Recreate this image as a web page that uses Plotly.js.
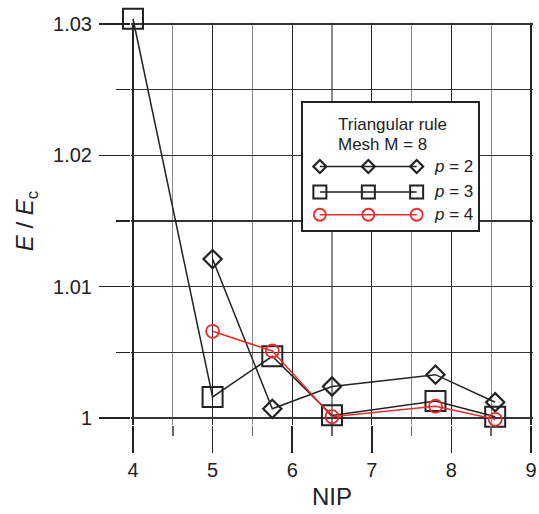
<!DOCTYPE html>
<html>
<head>
<meta charset="utf-8">
<script src="https://cdn.plot.ly/plotly-3.0.1.min.js"></script>
<style>html,body{margin:0;padding:0;background:#fff;}#chart{width:539px;height:514px;}</style>
</head>
<body>
<div id="chart"></div>
<script>
// NIP values
const nipP2 = [5, 5.75, 6.5, 7.8, 8.55];
const nipP3 = [4, 5, 5.75, 6.5, 7.8, 8.55];
const nipP4 = [5, 5.75, 6.5, 7.8, 8.55];
// E / Ec values
const ratioP2 = [1.0121, 1.0007, 1.0024, 1.0033, 1.0012];
const ratioP3 = [1.0304, 1.0016, 1.0047, 1.0002, 1.0013, 1.0001];
const ratioP4 = [1.0066, 1.0051, 1.0001, 1.0009, 0.9999];
const seriesNames = ['<i>p</i> = 2', '<i>p</i> = 3', '<i>p</i> = 4'];
const legendTitleLines = ['Triangular rule', 'Mesh M = 8'];
const xTicks = [4, 5, 6, 7, 8, 9];
const yTicks = [1, 1.01, 1.02, 1.03];
const yTickText = ['1', '1.01', '1.02', '1.03'];

const black = '#222';
const red = '#ee2a2a';
const FONT = 'Liberation Sans, Arial, sans-serif';

const styles = [
  {color: black, symbol: 'diamond-open', size: 14, lsize: 10, mlw: 2.2},
  {color: black, symbol: 'square-open', size: 20, lsize: 13, mlw: 2},
  {color: red, symbol: 'circle-open', size: 13, lsize: 12, mlw: 1.8}
];
const xs = [nipP2, nipP3, nipP4];
const ys = [ratioP2, ratioP3, ratioP4];

const traces = [];
for (let i = 0; i < 3; i++) {
  traces.push({
    x: xs[i], y: ys[i], type: 'scatter', mode: 'lines+markers',
    name: seriesNames[i], showlegend: false, cliponaxis: false,
    line: {color: styles[i].color, width: 1.5},
    marker: {symbol: styles[i].symbol, size: styles[i].size, color: styles[i].color,
             line: {color: styles[i].color, width: styles[i].mlw}}
  });
}

// legend drawn as an inset subplot (x2/y2, range 0..1)
const rowY = [0.5, 0.3, 0.12];
const sampleX = [0.098, 0.374, 0.649];
for (let i = 0; i < 3; i++) {
  traces.push({
    x: sampleX, y: [rowY[i], rowY[i], rowY[i]], xaxis: 'x2', yaxis: 'y2',
    type: 'scatter', mode: 'lines+markers', showlegend: false, hoverinfo: 'skip', cliponaxis: false,
    line: {color: styles[i].color, width: 1.5},
    marker: {symbol: styles[i].symbol, size: styles[i].lsize, color: styles[i].color,
             line: {color: styles[i].color, width: styles[i].mlw}}
  });
}

const annotations = [
  {xref: 'x2', yref: 'y2', x: 0.19, y: 0.835, text: legendTitleLines[0], showarrow: false,
   xanchor: 'left', yanchor: 'middle', font: {family: FONT, size: 17, color: black}},
  {xref: 'x2', yref: 'y2', x: 0.19, y: 0.675, text: legendTitleLines[1], showarrow: false,
   xanchor: 'left', yanchor: 'middle', font: {family: FONT, size: 17, color: black}}
];
for (let i = 0; i < 3; i++) {
  annotations.push({xref: 'x2', yref: 'y2', x: 0.735, y: rowY[i], text: seriesNames[i], showarrow: false,
    xanchor: 'left', yanchor: 'middle', font: {family: FONT, size: 17, color: black}});
}

const yTop = 1.030533, yBot = 0.999467;
const xLo = 3.975, xHi = 9.025;

const layout = {
  width: 539, height: 514,
  margin: {l: 131, r: 6, t: 17, b: 89},
  paper_bgcolor: '#fff', plot_bgcolor: '#fff',
  font: {family: FONT, color: black},
  showlegend: false,
  xaxis: {
    range: [xLo, xHi], tickvals: xTicks, ticktext: xTicks.map(String),
    showgrid: true, gridcolor: '#222', gridwidth: 1.2,
    ticks: 'outside', ticklen: 27, tickwidth: 1.5, tickcolor: black,
    minor: {dtick: 0.5, tick0: 4, showgrid: true, gridcolor: '#8a8a8a', gridwidth: 1.2,
            ticks: 'outside', ticklen: 10, tickwidth: 1.5, tickcolor: '#666'},
    showline: false, zeroline: false, domain: [0, 1], anchor: 'y',
    tickfont: {family: FONT, size: 20, color: black},
    title: {text: 'NIP', font: {family: FONT, size: 24, color: black}, standoff: 8}
  },
  yaxis: {
    range: [yBot, yTop], tickvals: yTicks, ticktext: yTickText,
    showgrid: true, gridcolor: '#333', gridwidth: 1.2,
    ticks: 'outside', ticklen: 31, tickwidth: 1.5, tickcolor: black,
    minor: {dtick: 0.005, tick0: 1, showgrid: true, gridcolor: '#333', gridwidth: 1.2,
            ticks: 'outside', ticklen: 14, tickwidth: 1.5, tickcolor: black},
    showline: false, zeroline: false, domain: [0, 1], anchor: 'x',
    ticklabelstandoff: 3,
    tickfont: {family: FONT, size: 20, color: black},
    title: {text: '<i>E</i> / <i>E</i><sub>c</sub>', font: {family: FONT, size: 24, color: black}, standoff: 12}
  },
  xaxis2: {domain: [0.427, 0.864], anchor: 'y2', range: [0, 1], fixedrange: true,
           showgrid: false, zeroline: false, showticklabels: false, ticks: '',
           showline: true, mirror: true, linecolor: black, linewidth: 2},
  yaxis2: {domain: [0.478, 0.789], anchor: 'x2', range: [0, 1], fixedrange: true,
           showgrid: false, zeroline: false, showticklabels: false, ticks: '',
           showline: true, mirror: true, linecolor: black, linewidth: 2},
  shapes: [
    // mask grid above the 1.03 line (range is padded so the top marker is kept)
    {type: 'rect', xref: 'x', yref: 'y', x0: 3.9, x1: 9.1, y0: 1.03009, y1: yTop + 0.001,
     fillcolor: '#fff', line: {width: 0}, layer: 'between'}
  ],
  annotations: annotations
};

Plotly.newPlot('chart', traces, layout, {staticPlot: true, displayModeBar: false});
</script>
</body>
</html>
